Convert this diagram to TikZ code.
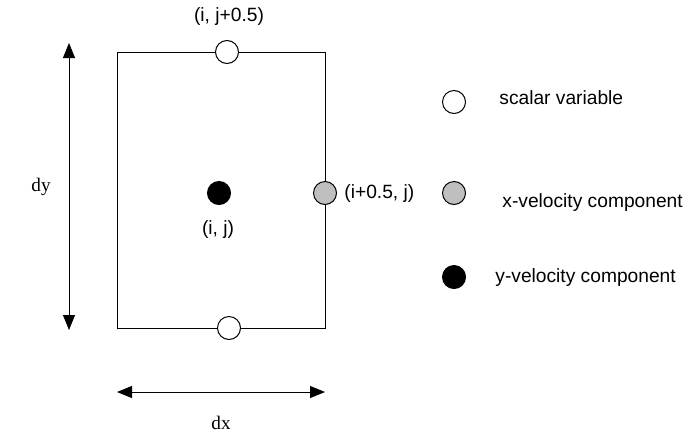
\documentclass[tikz,border=0pt]{standalone}
\usepackage{fontspec}
\setmainfont{Liberation Serif}
\setsansfont{Liberation Sans}
\usetikzlibrary{arrows.meta}

\begin{document}
\begin{tikzpicture}[x=0.5pt, y=-0.5pt,
  font=\sffamily\fontsize{9.6}{12}\selectfont,
  pt/.style={circle, draw, line width=0.5pt, minimum size=11.5pt, inner sep=0pt},
  scalar/.style={pt, fill=white},
  xvel/.style={pt, fill=black!25},
  yvel/.style={pt, fill=black},
  lbl/.style={inner sep=0pt},
  dim/.style={{Triangle[length=7.5pt,width=6pt]}-{Triangle[length=7.5pt,width=6pt]}, line width=0.5pt}
]
\useasboundingbox (0,0) rectangle (688,434);

% cell
\coordinate (nw) at (117,52);
\coordinate (se) at (325,328);
\draw[line width=0.5pt] (nw) rectangle (se);

\node[scalar] (north) at (227,52) {};
\node[scalar] (south) at (229,328) {};
\node[xvel] (east) at (325,193) {};
\node[yvel] (centre) at (219,193) {};

\node[lbl] (northlbl) at (229,17) {(i, j+0.5)};
\node[lbl] (centrelbl) at (218,230) {(i, j)};
\node[lbl, anchor=west] (eastlbl) at (344,194) {(i+0.5, j)};

% dimensions
\coordinate (dytop) at (69,43);
\coordinate (dybot) at (69,330);
\draw[dim] (dytop) -- (dybot);
\node[lbl, font=\rmfamily\fontsize{9.6}{12}\selectfont] (dy) at (41,187) {dy};

\coordinate (dxleft) at (117,392);
\coordinate (dxright) at (325,392);
\draw[dim] (dxleft) -- (dxright);
\node[lbl, font=\rmfamily\fontsize{9.6}{12}\selectfont] (dx) at (221,423) {dx};

% legend
\node[scalar] (keyscalar) at (454,102) {};
\node[xvel] (keyx) at (454,193) {};
\node[yvel] (keyy) at (454,277) {};
\node[lbl, anchor=west] (keyscalarlbl) at (499,98) {scalar variable};
\node[lbl, anchor=west] (keyxlbl) at (502,203) {x-velocity component};
\node[lbl, anchor=west] (keyylbl) at (495,278) {y-velocity component};

\end{tikzpicture}
\end{document}
